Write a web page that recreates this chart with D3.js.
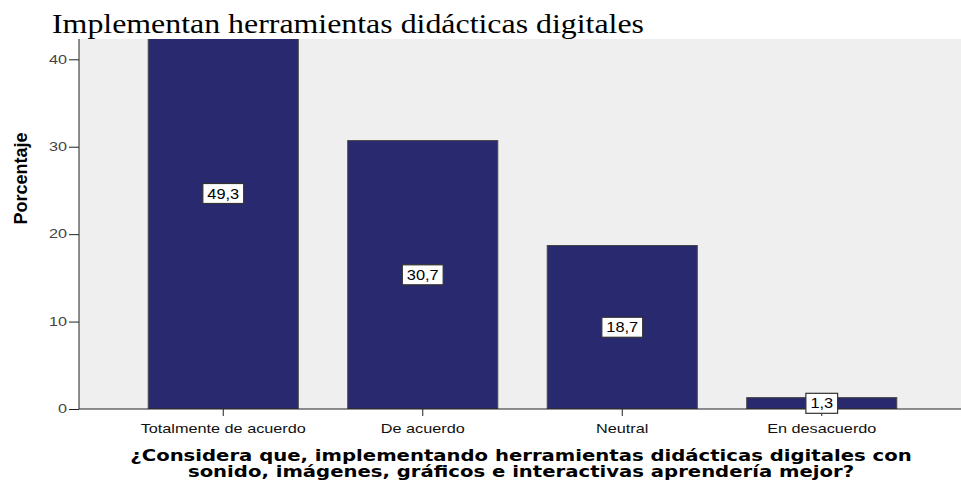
<!DOCTYPE html>
<html>
<head>
<meta charset="utf-8">
<script src="https://cdn.jsdelivr.net/npm/d3@7"></script>
<style>
  body { margin: 0; background: #fff; }
  svg { display: block; }
</style>
</head>
<body>
<script>
const width = 961;
const height = 483;

const categories = ['Totalmente de acuerdo', 'De acuerdo', 'Neutral', 'En desacuerdo'];
const values = [49.3, 30.7, 18.7, 1.3];
const labels = ['49,3', '30,7', '18,7', '1,3'];
const yTicks = [0, 10, 20, 30, 40];

const plot = { left: 79, right: 961, top: 39, bottom: 409 };
const sans = 'Arial, "Liberation Sans", sans-serif';

const svg = d3.select('body').append('svg')
  .attr('width', width)
  .attr('height', height);

const x = d3.scaleBand()
  .domain(categories)
  .range([123.5, 921.5])
  .paddingInner(0.248)
  .paddingOuter(0.124);

const y = d3.scaleLinear()
  .domain([0, 40])
  .range([plot.bottom, 59.3]);

// plot background
svg.append('rect')
  .attr('x', plot.left)
  .attr('y', plot.top)
  .attr('width', plot.right - plot.left)
  .attr('height', plot.bottom - plot.top)
  .attr('fill', '#efefef');

svg.append('clipPath').attr('id', 'plot-clip')
  .append('rect')
  .attr('x', plot.left)
  .attr('y', plot.top)
  .attr('width', plot.right - plot.left)
  .attr('height', plot.bottom - plot.top);

const bars = svg.append('g').attr('clip-path', 'url(#plot-clip)');

bars.selectAll('rect')
  .data(categories)
  .join('rect')
  .attr('x', (d) => x(d))
  .attr('y', (d, i) => y(values[i]))
  .attr('width', x.bandwidth())
  .attr('height', (d, i) => plot.bottom - y(values[i]))
  .attr('fill', '#29296f')
  .attr('stroke', '#444')
  .attr('stroke-width', 1);

// y axis
const yAxis = svg.append('g')
  .attr('transform', `translate(${plot.left},0)`)
  .call(d3.axisLeft(y).tickValues(yTicks).tickSize(10).tickSizeOuter(0).tickPadding(2));
yAxis.select('.domain').remove();
yAxis.selectAll('line').attr('stroke', '#222');
yAxis.selectAll('text')
  .attr('x', 0)
  .attr('transform', 'translate(-12,0) scale(1.35,1)')
  .attr('font-family', sans)
  .attr('font-size', 12)
  .attr('fill', '#444');

svg.append('line')
  .attr('x1', plot.left).attr('x2', plot.left)
  .attr('y1', plot.top).attr('y2', plot.bottom)
  .attr('stroke', '#222');

// x axis
const xAxis = svg.append('g')
  .attr('transform', `translate(0,${plot.bottom})`)
  .call(d3.axisBottom(x).tickSize(7).tickSizeOuter(0).tickPadding(8));
xAxis.select('.domain').remove();
xAxis.selectAll('line').attr('stroke', '#222');
xAxis.selectAll('text')
  .attr('transform', 'scale(1.25,1)')
  .attr('font-family', sans)
  .attr('font-size', 13)
  .attr('fill', '#111');

svg.append('line')
  .attr('x1', plot.left).attr('x2', plot.right)
  .attr('y1', plot.bottom).attr('y2', plot.bottom)
  .attr('stroke', '#222');

// value labels
const lab = svg.append('g').selectAll('g')
  .data(categories)
  .join('g')
  .attr('transform', (d, i) => `translate(${x(d) + x.bandwidth() / 2},${y(values[i] / 2)})`);

lab.append('text')
  .attr('text-anchor', 'middle')
  .attr('dy', '0.36em')
  .attr('transform', 'scale(1.17,1)')
  .attr('font-family', sans)
  .attr('font-size', 14)
  .attr('fill', '#000')
  .text((d, i) => labels[i]);

lab.each(function () {
  const g = d3.select(this);
  const w = g.select('text').node().getComputedTextLength() * 1.17;
  g.insert('rect', 'text')
    .attr('x', -w / 2 - 4.5)
    .attr('y', -10)
    .attr('width', w + 9)
    .attr('height', 20)
    .attr('fill', '#fff')
    .attr('stroke', '#333')
    .attr('stroke-width', 1.2);
});

// titles
svg.append('text')
  .attr('x', 52)
  .attr('y', 33)
  .attr('font-family', '"Times New Roman", "Liberation Serif", serif')
  .attr('font-size', 27)
  .attr('textLength', 592)
  .attr('lengthAdjust', 'spacingAndGlyphs')
  .attr('fill', '#000')
  .text('Implementan herramientas didácticas digitales');

svg.append('text')
  .attr('transform', 'translate(27,178.5) rotate(-90)')
  .attr('text-anchor', 'middle')
  .attr('font-family', sans)
  .attr('font-weight', 'bold')
  .attr('font-size', 18)
  .attr('fill', '#000')
  .text('Porcentaje');

const xTitle = svg.append('text')
  .attr('transform', 'translate(521,0) scale(1.31,1)')
  .attr('text-anchor', 'middle')
  .attr('font-family', '"DejaVu Sans", Verdana, sans-serif')
  .attr('font-weight', 'bold')
  .attr('font-size', 15)
  .attr('fill', '#000');
xTitle.append('tspan').attr('x', 0).attr('y', 461)
  .text('¿Considera que, implementando herramientas didácticas digitales con');
xTitle.append('tspan').attr('x', 0).attr('y', 477)
  .text('sonido, imágenes, gráficos e interactivas aprendería mejor?');
</script>
</body>
</html>
